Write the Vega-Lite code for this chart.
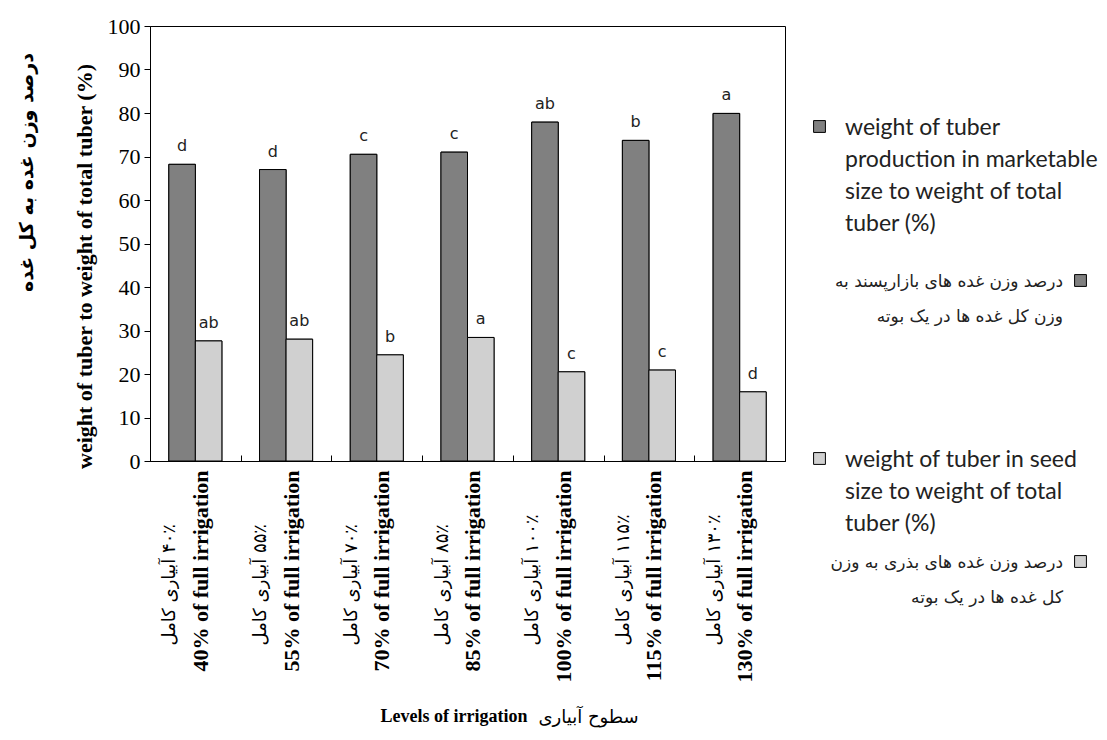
{
  "$schema": "https://vega.github.io/schema/vega-lite/v6.json",
  "width": 635,
  "height": 435,
  "autosize": "none",
  "padding": {"left": 150, "top": 26, "right": 322, "bottom": 279},
  "background": "white",
  "config": {
    "view": {"stroke": "black", "strokeWidth": 1},
    "axis": {"grid": false}
  },
  "data": {
    "values": [
      {"level": "40% of full irrigation", "series": "marketable", "seriesFa": "m", "value": 68.2, "letter": "d"},
      {"level": "40% of full irrigation", "series": "seed", "seriesFa": "s", "value": 27.6, "letter": "ab"},
      {"level": "55% of full irrigation", "series": "marketable", "seriesFa": "m", "value": 67.0, "letter": "d"},
      {"level": "55% of full irrigation", "series": "seed", "seriesFa": "s", "value": 28.0, "letter": "ab"},
      {"level": "70% of full irrigation", "series": "marketable", "seriesFa": "m", "value": 70.5, "letter": "c"},
      {"level": "70% of full irrigation", "series": "seed", "seriesFa": "s", "value": 24.4, "letter": "b"},
      {"level": "85% of full irrigation", "series": "marketable", "seriesFa": "m", "value": 71.0, "letter": "c"},
      {"level": "85% of full irrigation", "series": "seed", "seriesFa": "s", "value": 28.4, "letter": "a"},
      {"level": "100% of full irrigation", "series": "marketable", "seriesFa": "m", "value": 77.9, "letter": "ab"},
      {"level": "100% of full irrigation", "series": "seed", "seriesFa": "s", "value": 20.5, "letter": "c"},
      {"level": "115% of full irrigation", "series": "marketable", "seriesFa": "m", "value": 73.7, "letter": "b"},
      {"level": "115% of full irrigation", "series": "seed", "seriesFa": "s", "value": 20.9, "letter": "c"},
      {"level": "130% of full irrigation", "series": "marketable", "seriesFa": "m", "value": 79.9, "letter": "a"},
      {"level": "130% of full irrigation", "series": "seed", "seriesFa": "s", "value": 15.9, "letter": "d"}
    ]
  },
  "encoding": {
    "x": {"field": "level", "type": "nominal", "sort": null, "scale": {"paddingInner": 0, "paddingOuter": 0}},
    "xOffset": {"field": "series", "type": "nominal", "sort": ["marketable", "seed"], "scale": {"paddingInner": 0, "paddingOuter": 0.71}},
    "y": {"field": "value", "type": "quantitative", "scale": {"domain": [0, 100], "nice": false}}
  },
  "layer": [
    {
      "mark": {"type": "bar", "stroke": "black", "strokeWidth": 1},
      "encoding": {
        "x": {"field": "level", "type": "nominal", "sort": null,
          "axis": {
            "orient": "bottom",
            "title": "Levels of irrigation",
            "titleFont": "Liberation Serif", "titleFontWeight": "bold", "titleFontSize": 18, "titleColor": "black",
            "titleAlign": "left", "titleBaseline": "middle", "titleX": 230, "titleY": 255,
            "labelAngle": 270, "labelAlign": "right", "labelBaseline": "middle",
            "labelFont": "Liberation Serif", "labelFontWeight": "bold", "labelFontSize": 22, "labelColor": "black",
            "labelOffset": 5, "labelPadding": 15, "labelLimit": 0,
            "tickBand": "extent", "tickSize": -6, "tickColor": "black", "domainColor": "black"
          }
        },
        "y": {"field": "value", "type": "quantitative",
          "axis": {
            "orient": "left",
            "values": [0, 10, 20, 30, 40, 50, 60, 70, 80, 90, 100],
            "title": "weight of tuber to weight of total tuber (%)",
            "titleFont": "Liberation Serif", "titleFontWeight": "bold", "titleFontSize": 22, "titleColor": "black",
            "titleAngle": 270, "titleAlign": "center", "titleBaseline": "middle", "titleX": -66, "titleY": 240,
            "labelFont": "Liberation Serif", "labelFontSize": 22, "labelColor": "black", "labelPadding": 4,
            "tickSize": 6, "tickColor": "black", "domainColor": "black"
          }
        },
        "fill": {"field": "series", "type": "nominal",
          "scale": {"domain": ["marketable", "seed"], "range": ["#808080", "#d0d0d0"]},
          "legend": {
            "orient": "none", "legendX": 658, "legendY": 89, "direction": "vertical", "padding": 0,
            "title": null, "symbolType": "square", "symbolSize": 140, "symbolStrokeColor": "black", "symbolStrokeWidth": 1,
            "labelExpr": "datum.value == 'marketable' ? ['weight of tuber', 'production in marketable', 'size to weight of total', 'tuber (%)'] : ['weight of tuber in seed', 'size to weight of total', 'tuber (%)']",
            "labelFont": "Lato", "labelFontSize": 23, "labelColor": "#222", "labelLimit": 400, "labelOffset": 14,
            "labelBaseline": "alphabetic", "rowPadding": 211,
            "encoding": {"labels": {"lineHeight": {"value": 32}, "dy": {"value": 8}}}
          }
        }
      }
    },
    {
      "mark": {"type": "bar", "stroke": "black", "strokeWidth": 1},
      "encoding": {
        "x": {"field": "level", "type": "nominal", "sort": null,
          "axis": {
            "orient": "bottom",
            "title": "سطوح آبیاری",
            "titleFont": "DejaVu Sans", "titleFontWeight": "normal", "titleFontSize": 18, "titleColor": "black",
            "titleAlign": "left", "titleBaseline": "middle", "titleX": 388, "titleY": 256,
            "labelExpr": "['\u200F۴۰٪ آبیاری کامل', '\u200F۵۵٪ آبیاری کامل', '\u200F۷۰٪ آبیاری کامل', '\u200F۸۵٪ آبیاری کامل', '\u200F۱۰۰٪ آبیاری کامل', '\u200F۱۱۵٪ آبیاری کامل', '\u200F۱۳۰٪ آبیاری کامل'][indexof(['40% of full irrigation', '55% of full irrigation', '70% of full irrigation', '85% of full irrigation', '100% of full irrigation', '115% of full irrigation', '130% of full irrigation'], datum.value)]",
            "labelAngle": 270, "labelAlign": "left", "labelBaseline": "middle",
            "labelFont": "DejaVu Sans", "labelFontSize": 18, "labelColor": "black",
            "labelOffset": -25, "labelPadding": 184, "labelLimit": 0,
            "ticks": false, "tickSize": 0, "domain": false
          }
        },
        "y": {"field": "value", "type": "quantitative",
          "axis": {
            "orient": "left",
            "title": "درصد وزن غده به کل غده",
            "titleFont": "DejaVu Sans", "titleFontWeight": "bold", "titleFontSize": 19, "titleColor": "black",
            "titleAngle": 270, "titleAlign": "center", "titleBaseline": "middle", "titleX": -124, "titleY": 146,
            "labels": false, "ticks": false, "domain": false
          }
        },
        "fill": {"field": "seriesFa", "type": "nominal",
          "scale": {"domain": ["m", "s"], "range": ["#808080", "#d0d0d0"]},
          "legend": {
            "orient": "none", "legendX": 922, "legendY": 246, "direction": "vertical", "padding": 0,
            "title": null, "symbolType": "square", "symbolSize": 140, "symbolStrokeColor": "black", "symbolStrokeWidth": 1,
            "labelExpr": "datum.value == 'm' ? ['درصد وزن غده های بازارپسند به', 'وزن کل غده ها در یک بوته'] : ['درصد وزن غده های بذری به وزن', 'کل غده ها در یک بوته']",
            "labelFont": "DejaVu Sans", "labelFontSize": 17, "labelColor": "#222", "labelLimit": 400, "labelOffset": -26,
            "labelAlign": "right", "labelBaseline": "alphabetic", "rowPadding": 228,
            "encoding": {"labels": {"lineHeight": {"value": 35}, "dy": {"value": 6}}}
          }
        }
      }
    },
    {
      "mark": {"type": "text", "baseline": "alphabetic", "dy": -13, "font": "DejaVu Sans", "fontSize": 16, "color": "#222"},
      "encoding": {
        "x": {"field": "level", "type": "nominal", "sort": null, "axis": null},
        "y": {"field": "value", "type": "quantitative", "axis": null},
        "text": {"field": "letter", "type": "nominal"}
      }
    }
  ],
  "resolve": {
    "axis": {"x": "independent", "y": "independent"},
    "scale": {"fill": "independent"},
    "legend": {"fill": "independent"}
  }
}
